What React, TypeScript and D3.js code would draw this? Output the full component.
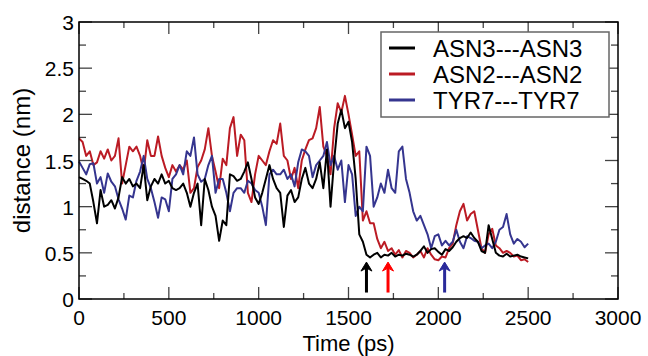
import React from "react";
import * as d3 from "d3";

// sampling of the trajectory (ps)
const T_START = 0;
const T_STEP = 20;

const asn3 = [
  1.32, 1.3, 1.28, 1.25, 1.05, 0.82, 1.18, 1.0, 1.02, 1.07, 0.98, 1.1, 1.32, 1.25, 1.3, 1.22, 1.25,
  1.2, 1.45, 1.07, 1.22, 1.3, 1.25, 1.35, 1.25, 1.28, 1.2, 1.18, 1.2, 1.25, 1.15, 1.0, 1.15,
  1.25, 0.8, 1.3, 1.18, 1.0, 0.9, 0.63, 0.85, 0.8, 1.35, 1.33, 1.28, 1.3, 1.38, 1.48, 1.3,
  1.1, 1.03, 1.15, 1.3, 1.45, 1.3, 1.2, 1.15, 0.78, 1.12, 1.18, 1.05, 1.1, 1.3, 1.42,
  1.25, 1.2, 1.3, 1.48, 1.2, 1.62, 1.0, 1.5, 1.9, 2.05, 1.85, 1.92, 1.7, 1.3, 0.7, 0.62,
  0.48, 0.45, 0.48, 0.5, 0.45, 0.48, 0.47, 0.5, 0.46, 0.48, 0.47, 0.49, 0.48, 0.46, 0.48,
  0.52, 0.57, 0.5, 0.54, 0.55, 0.51, 0.48, 0.54, 0.52, 0.56, 0.62, 0.66, 0.68, 0.66, 0.72,
  0.66, 0.62, 0.52, 0.5, 0.8, 0.65, 0.5, 0.47, 0.46, 0.49, 0.46, 0.47, 0.48, 0.46, 0.45, 0.44,
];

const asn2 = [
  1.74, 1.7, 1.55, 1.6, 1.45, 1.48, 1.6, 1.52, 1.62, 1.5, 1.55, 1.74, 1.25, 1.45, 1.65, 1.6, 1.65,
  1.55, 1.38, 1.72, 1.55, 1.55, 1.76, 1.55, 1.42, 1.32, 1.45, 1.38, 1.45, 1.4, 1.5, 1.15, 1.2,
  1.43, 1.5, 1.62, 1.85, 1.55, 1.38, 1.2, 1.52, 1.45, 1.85, 1.97, 1.55, 1.78, 1.72, 1.15, 1.05,
  1.35, 1.55, 1.5, 1.45, 1.6, 1.72, 1.68, 1.9, 1.55, 1.5, 1.3, 1.42, 1.2, 1.5, 1.62,
  1.72, 1.74, 1.85, 2.08, 1.65, 1.55, 1.35, 1.85, 2.12, 2.02, 2.2, 2.0, 1.78, 1.55, 1.6, 0.85,
  0.95, 0.82, 0.82, 0.65, 0.55, 0.62, 0.52, 0.55, 0.48, 0.53, 0.45, 0.52, 0.5, 0.45, 0.48,
  0.52, 0.45, 0.55, 0.48, 0.43, 0.42, 0.46, 0.45, 0.55, 0.6, 0.8, 0.95, 1.03, 0.85, 0.92,
  0.95, 0.75, 0.55, 0.5, 0.7, 0.76, 0.58, 0.55, 0.5, 0.52, 0.5, 0.46, 0.47, 0.42, 0.43, 0.4,
];

const tyr7 = [
  1.49, 1.42, 1.35, 1.46, 1.47, 1.25, 1.32, 1.15, 1.36, 1.27, 1.22, 1.08, 0.98, 0.86, 1.12, 1.1,
  1.28, 1.38, 1.55, 1.3, 1.2, 1.05, 0.88, 1.1, 1.08, 0.95, 1.3, 1.35, 1.45, 1.35, 1.6, 1.55, 1.75,
  1.35, 1.27, 1.3, 1.45, 1.55, 1.15, 1.3, 1.3, 1.15, 0.95, 1.15, 1.2, 1.2, 1.15, 1.28, 1.25,
  1.18, 1.15, 1.0, 0.8, 1.35, 1.4, 1.35, 1.35, 1.4, 1.3, 1.35, 1.22, 1.48, 1.62, 1.6,
  1.55, 1.32, 1.45, 1.5, 1.55, 1.7, 1.45, 1.55, 1.4, 1.5, 1.05, 1.45, 1.35, 0.9, 1.0, 0.95,
  1.65, 1.55, 1.0, 1.1, 1.25, 1.15, 1.4, 1.2, 1.15, 1.6, 1.65, 1.3, 1.15, 0.95, 0.85,
  0.9, 0.8, 0.7, 0.55, 0.68, 0.7, 0.58, 0.63, 0.58, 0.62, 0.75, 0.62, 0.55, 0.68, 0.66,
  0.63, 0.62, 0.55, 0.58, 0.6, 0.55, 0.62, 0.75, 0.78, 0.92, 0.7, 0.6, 0.65, 0.62, 0.56, 0.6,
];

const seriesNames = ["ASN3---ASN3", "ASN2---ASN2", "TYR7---TYR7"];
const seriesColors = ["#000000", "#bb1b24", "#35358f"];
const seriesValues = [asn3, asn2, tyr7];

// arrows marking the transition times (ps)
const arrowTimes = [1600, 1720, 2035];
const arrowColors = ["#000000", "#ff0000", "#2a2a9a"];

const xTicks = [0, 500, 1000, 1500, 2000, 2500, 3000];
const yTicks = [0, 0.5, 1, 1.5, 2, 2.5, 3];

const W = 648;
const H = 356;
const FONT = "'Liberation Sans', Arial, sans-serif";

export default function App() {
  const x = d3.scaleLinear().domain([0, 3000]).range([79, 618]);
  const y = d3.scaleLinear().domain([0, 3]).range([299, 22]);
  const [x0, x1] = x.range();
  const [y0, y1] = y.range();

  const line = d3
    .line<number>()
    .x((_, i) => x(T_START + i * T_STEP))
    .y((d) => y(d));

  const xMinor = d3.range(0, 3001, 250);
  const yMinor = d3.range(0, 3.01, 0.25);

  return (
    <svg
      width={W}
      height={H}
      style={{ position: "absolute", left: 0, top: 0, background: "#fff" }}
      fontFamily={FONT}
    >
      {/* data */}
      <g fill="none" strokeWidth={2} strokeLinejoin="round">
        {[1, 2, 0].map((k) => (
          <path key={k} d={line(seriesValues[k]) ?? ""} stroke={seriesColors[k]} />
        ))}
      </g>

      {/* ticks, inward on all sides */}
      <g stroke="#444" strokeWidth={1.3}>
        {xMinor.map((t) => {
          const len = t % 500 === 0 ? 12 : 6;
          return (
            <g key={"xt" + t}>
              <line x1={x(t)} x2={x(t)} y1={y0} y2={y0 - len} />
              <line x1={x(t)} x2={x(t)} y1={y1} y2={y1 + len} />
            </g>
          );
        })}
        {yMinor.map((v) => {
          const len = Math.round(v * 100) % 50 === 0 ? 13 : 7;
          return (
            <g key={"yt" + v}>
              <line x1={x0} x2={x0 + len} y1={y(v)} y2={y(v)} />
              <line x1={x1} x2={x1 - len} y1={y(v)} y2={y(v)} />
            </g>
          );
        })}
      </g>

      {/* frame */}
      <rect
        x={x0}
        y={y1}
        width={x1 - x0}
        height={y0 - y1}
        fill="none"
        stroke="#000"
        strokeWidth={1.5}
      />

      {/* arrows */}
      {arrowTimes.map((t, i) => {
        const ax = x(t);
        const tip = y(0.4);
        const tail = y(0.07);
        return (
          <g key={"ar" + i} fill={arrowColors[i]} stroke={arrowColors[i]}>
            <line x1={ax} x2={ax} y1={tip + 4} y2={tail} strokeWidth={3} />
            <path
              d={`M${ax},${tip} L${ax - 5.5},${tip + 9} L${ax},${tip + 6} L${ax + 5.5},${tip + 9} Z`}
              strokeWidth={1}
            />
          </g>
        );
      })}

      {/* tick labels */}
      <g fontSize={21} fill="#000">
        {xTicks.map((t) => (
          <text key={"xl" + t} x={x(t)} y={y0 + 26} textAnchor="middle">
            {t}
          </text>
        ))}
        {yTicks.map((v) => (
          <text key={"yl" + v} x={x0 - 5} y={y(v) + 8} textAnchor="end">
            {v}
          </text>
        ))}
      </g>

      {/* axis titles */}
      <text x={(x0 + x1) / 2} y={351} textAnchor="middle" fontSize={22}>
        Time (ps)
      </text>
      <text
        transform={`translate(30,${(y0 + y1) / 2}) rotate(-90)`}
        textAnchor="middle"
        fontSize={24}
      >
        distance (nm)
      </text>

      {/* legend */}
      <g>
        <rect x={381} y={32} width={228} height={85} fill="#fff" stroke="#666" strokeWidth={1.5} />
        {seriesNames.map((name, i) => {
          const ly = 48 + i * 26;
          return (
            <g key={name}>
              <line x1={389} x2={415} y1={ly} y2={ly} stroke={seriesColors[i]} strokeWidth={3} />
              <text x={433} y={ly + 8.5} fontSize={24}>
                {name}
              </text>
            </g>
          );
        })}
      </g>
    </svg>
  );
}
